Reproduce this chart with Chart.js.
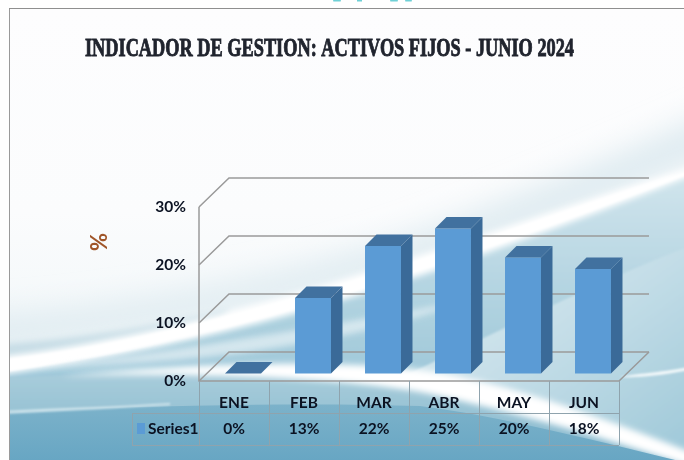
<!DOCTYPE html>
<html><head><meta charset="utf-8">
<script src="https://cdn.jsdelivr.net/npm/chart.js@4"></script>
<style>
html,body{margin:0;padding:0;background:#fff;overflow:hidden}
#wrap{position:relative;width:684px;height:460px}
#bg{position:absolute;left:0;top:0}
#c{position:absolute;left:0;top:0}
</style></head><body>
<div id="wrap">
<svg id="bg" width="684" height="460" viewBox="0 0 684 460" xmlns="http://www.w3.org/2000/svg">
<defs>
<linearGradient id="sky" x1="0" y1="0" x2="0" y2="1">
<stop offset="0" stop-color="#fdfdfe"/><stop offset=".45" stop-color="#fbfcfd"/><stop offset="1" stop-color="#e9f2f5"/></linearGradient>
<linearGradient id="below" x1="0" y1="0" x2="0" y2="1">
<stop offset="0" stop-color="#d3e6ed"/><stop offset=".5" stop-color="#aed1df"/><stop offset="1" stop-color="#8dbdd2"/></linearGradient>
<linearGradient id="wedge" x1="0" y1="0" x2="1" y2="1">
<stop offset="0" stop-color="#e4f0f4"/><stop offset=".5" stop-color="#c3dde7"/><stop offset="1" stop-color="#9cc7d8"/></linearGradient>
<linearGradient id="deep" x1="0" y1="0" x2="0" y2="1">
<stop offset="0" stop-color="#7cb2ca"/><stop offset="1" stop-color="#64a4c2"/></linearGradient>
<linearGradient id="midL" x1="0" y1="0" x2="0" y2="1">
<stop offset="0" stop-color="#a9cddb"/><stop offset="1" stop-color="#7fb4cb"/></linearGradient>
<filter id="b1"><feGaussianBlur stdDeviation="1.2"/></filter>
<filter id="b3"><feGaussianBlur stdDeviation="3"/></filter>
<filter id="b10"><feGaussianBlur stdDeviation="16"/></filter>
<clipPath id="frame"><rect x="10" y="9" width="674" height="451"/></clipPath>
</defs>
<rect width="684" height="460" fill="#fff"/>
<g clip-path="url(#frame)">
<rect x="10" y="9" width="674" height="451" fill="url(#sky)"/>
<path d="M-40 350 C120 335 280 305 420 265 C520 235 620 195 720 150 L720 110 C600 165 500 205 400 240 C260 285 100 315 -40 320Z" fill="#dbe9ef" filter="url(#b10)"/>
<path d="M-10 345 C60 340 130 332 230 310 L210 335 C130 352 60 356 -10 362Z" fill="#c7dde6" filter="url(#b3)"/>
<path d="M0 372 C120 356 260 325 400 275 C500 242 610 202 700 165 L700 460 L0 460Z" fill="url(#below)" filter="url(#b1)"/>
<path d="M400 378 C480 340 600 280 700 242 L700 460 L400 460Z" fill="url(#wedge)" filter="url(#b1)"/>
<path d="M0 357 C110 344 250 310 400 262 C490 234 600 195 700 165 L700 172 C600 212 500 250 400 282 C260 328 110 360 0 375Z" fill="#fff" filter="url(#b3)"/>
<path d="M0 360 C110 348 250 314 400 266 C490 238 600 198 700 167 L700 170 C600 208 500 246 400 276 C260 322 110 356 0 372Z" fill="#fff" filter="url(#b1)"/>
<path d="M40 368 C180 350 350 322 470 300 C380 332 250 362 40 368Z" fill="#e8f2f6" filter="url(#b3)" opacity=".7"/>
<path d="M0 378 C130 372 270 368 420 378 C500 388 600 425 700 462 L0 470Z" fill="url(#midL)" filter="url(#b1)"/>
<path d="M60 376 C200 362 340 360 420 370 C500 380 600 416 700 456 L700 470 C600 436 500 408 420 392 C340 378 200 372 60 376Z" fill="#fff" filter="url(#b3)"/>
<path d="M0 412 C130 406 300 402 420 406 C500 416 600 442 700 466 L0 470Z" fill="url(#deep)"/>
<path d="M0 411 C60 408 110 407 170 403 L170 405 C110 409 60 411 0 414Z" fill="#cfe4ec" filter="url(#b1)"/>
<path d="M620 377 C640 373 660 373 700 365 L700 368 C660 376 640 378 620 377Z" fill="#f2f8fa" filter="url(#b1)"/>
</g>
<line x1="9.5" y1="8" x2="9.5" y2="460" stroke="#9a9a9a" stroke-width="1"/>
<line x1="9" y1="8.5" x2="684" y2="8.5" stroke="#8f8f8f" stroke-width="1.2"/>
<g fill="#6fd0d6"><rect x="333" y="0" width="8" height="1.5" rx=".7"/><rect x="357" y="0" width="5" height="1.5"/><rect x="390" y="0" width="8" height="1.5" rx=".7"/><rect x="405" y="0" width="7" height="1.5" rx=".7"/></g>
</svg>
<canvas id="c" width="684" height="460"></canvas>
</div>
<script>
const categories = ['ENE','FEB','MAR','ABR','MAY','JUN'];
const seriesName = 'Series1';
const seriesValues = [0,13,22,25,20,18];
const yTicks = [0,10,20,30];
const chartTitle = 'INDICADOR DE GESTION: ACTIVOS FIJOS - JUNIO 2024';
const axisTitle = '%';

const DEPTH = 30, BAR_DX = 9, BAR_DY = 7.5, BAR_D = 11.5;
const FRONT = '#5b9bd5', SIDE = '#3a6a98', TOP = '#41719f';
const GRID = '#9a9a9a', TABLE = '#8fa3ad';
const TEXT = '#0b1222';
const LF = 'Lato, sans-serif';
const TXT_SIZE = 15.5;

const chrome = {
  id:'chrome',
  beforeDatasetsDraw(chart){
    const {ctx,scales:{x,y}} = chart;
    const L=x.left,R=x.right,B=y.getPixelForValue(0);
    ctx.save();
    ctx.strokeStyle=GRID;ctx.lineWidth=1.5;
    yTicks.forEach(t=>{
      const py=y.getPixelForValue(t);
      ctx.beginPath();ctx.moveTo(L,py);ctx.lineTo(L+DEPTH,py-DEPTH+1);ctx.lineTo(R+DEPTH,py-DEPTH+1);ctx.stroke();
    });
    ctx.beginPath();ctx.moveTo(L,y.getPixelForValue(30));ctx.lineTo(L,B);ctx.lineTo(R,B);ctx.lineTo(R+DEPTH,B-DEPTH+1);ctx.stroke();
    ctx.restore();
    ctx.save();
    ctx.translate(BAR_DX,-BAR_DY);
  },
  afterDatasetsDraw(chart){
    const {ctx,scales:{x,y}} = chart;
    const bars=chart.getDatasetMeta(0).data;
    bars.forEach(b=>{
      const hw=b.width/2,l=b.x-hw,r=b.x+hw,t=b.y,bt=y.getPixelForValue(0);
      ctx.fillStyle=TOP;
      ctx.beginPath();ctx.moveTo(l,t);ctx.lineTo(l+BAR_D,t-BAR_D);ctx.lineTo(r+BAR_D,t-BAR_D);ctx.lineTo(r,t);ctx.closePath();ctx.fill();
      if(bt-t>0.5){
        ctx.fillStyle=SIDE;
        ctx.beginPath();ctx.moveTo(r,t);ctx.lineTo(r+BAR_D,t-BAR_D);ctx.lineTo(r+BAR_D,bt-BAR_D);ctx.lineTo(r,bt);ctx.closePath();ctx.fill();
      }
    });
    ctx.restore();
    const L=x.left,R=x.right,top=y.getPixelForValue(0);
    const r1=top+32,r2=top+64,legL=132;
    ctx.save();
    ctx.strokeStyle=TABLE;ctx.lineWidth=1;
    ctx.beginPath();
    ctx.moveTo(legL,r1+.5);ctx.lineTo(R,r1+.5);
    ctx.moveTo(legL,r2+.5);ctx.lineTo(R,r2+.5);
    ctx.moveTo(legL+.5,r1);ctx.lineTo(legL+.5,r2);
    const step=(R-L)/categories.length;
    for(let i=0;i<=categories.length;i++){const px=Math.round(L+i*step)+.5;ctx.moveTo(px,top);ctx.lineTo(px,r2);}
    ctx.stroke();
    ctx.fillStyle=FRONT;ctx.fillRect(137,423,8,11);
    ctx.fillStyle=TEXT;ctx.font='bold '+TXT_SIZE+'px '+LF;ctx.textBaseline='middle';
    ctx.textAlign='left';ctx.fillText(seriesName,148,r1+15.5);
    ctx.textAlign='center';
    seriesValues.forEach((v,i)=>ctx.fillText(v+'%',x.getPixelForValue(i),r1+16));
    ctx.fillStyle='#20242e';ctx.strokeStyle='#20242e';ctx.lineWidth=.9;ctx.textAlign='left';ctx.textBaseline='alphabetic';
    ctx.font='bold 26px "Liberation Serif",serif';
    const w=ctx.measureText(chartTitle).width;
    ctx.save();ctx.translate(85,56);ctx.scale(489/w,1);ctx.fillText(chartTitle,0,0);ctx.strokeText(chartTitle,0,0);ctx.restore();
    ctx.save();ctx.translate(100,242);ctx.rotate(-Math.PI/2);
    ctx.fillStyle='#a0562a';ctx.font='bold 22px Lato, sans-serif';ctx.textAlign='center';ctx.textBaseline='middle';
    ctx.fillText(axisTitle,0,0);ctx.restore();
    ctx.restore();
  }
};

new Chart(document.getElementById('c'),{
  type:'bar',
  data:{labels:categories,datasets:[{label:seriesName,data:seriesValues,backgroundColor:FRONT,borderWidth:0,barPercentage:.514,categoryPercentage:1,clip:false}]},
  options:{
    responsive:false,animation:false,
    layout:{padding:{left:139,right:65,top:207,bottom:39}},
    plugins:{legend:{display:false},title:{display:false},tooltip:{enabled:false}},
    scales:{
      x:{grid:{display:false,drawTicks:false},border:{display:false},afterFit(s){s.height=40;},
         ticks:{color:TEXT,font:{family:LF,size:TXT_SIZE,weight:'bold'},padding:13,maxRotation:0}},
      y:{min:0,max:30,grid:{display:false,drawTicks:false},border:{display:false},afterFit(s){s.width=60;},
         ticks:{stepSize:10,color:TEXT,padding:13,font:{family:LF,size:TXT_SIZE,weight:'bold'},callback:v=>v+'%'}}
    }
  },
  plugins:[chrome]
});
</script>
</body></html>
